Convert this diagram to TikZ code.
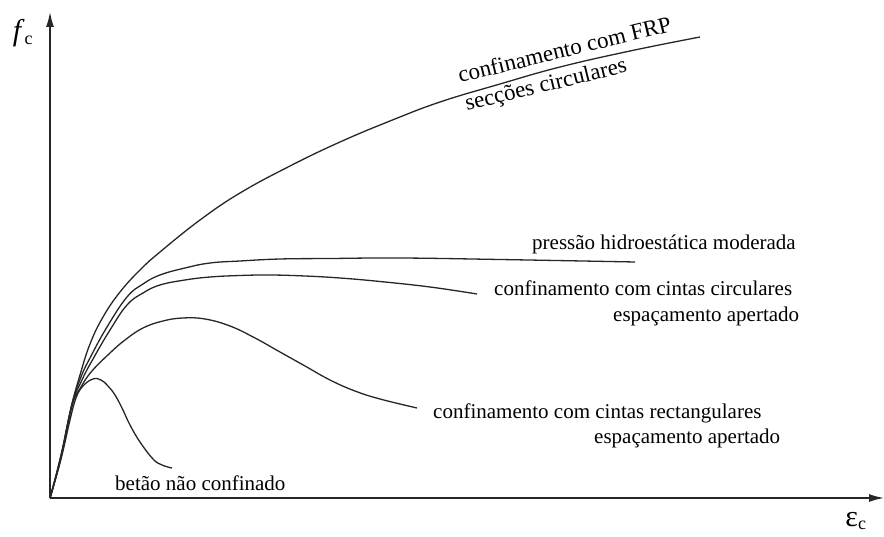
\documentclass[tikz,border=0pt]{standalone}
\usepackage{fontspec}
\setmainfont{Liberation Serif}
\newfontfamily\lserif{Liberation Serif}
\usetikzlibrary{arrows.meta}
\begin{document}
\begin{tikzpicture}[x=1pt,y=-1pt,
  curve/.style={line width=1.3pt,draw=black!85},
  axis/.style={line width=1.4pt,draw=black!85,-{Latex[length=15pt,width=8pt]}},
  lbl/.style={anchor=base west,inner sep=0pt,font=\lserif\fontsize{21}{25}\selectfont},
  rlbl/.style={anchor=base west,inner sep=0pt,rotate=13.7,font=\lserif\fontsize{23}{27}\selectfont}]
\useasboundingbox (0,0) rectangle (884,537);
\coordinate (O) at (50,498);
\coordinate (Ytip) at (50,12);
\coordinate (Xtip) at (884,498);
\draw[axis] (O) -- (Ytip);
\draw[axis] (O) -- (Xtip);
\node[inner sep=0pt,font=\lserif\fontsize{30}{30}\selectfont] (fc) at (23,33) {\textit{f}\textsubscript{\fontsize{18}{18}\selectfont c}};
\node[inner sep=0pt,font=\lserif\fontsize{30}{30}\selectfont] (ec) at (856,521) {ε\textsubscript{\fontsize{18}{18}\selectfont c}};
% FRP
\draw[curve] plot[smooth,tension=0.7] coordinates {(50,498) (61,455) (71,408) (80,375) (90,344) (103,317) (120,292) (140,270) (160,252) (200,220) (240,193) (290,166) (340,142) (390,121) (440,102) (500,84) (560,67) (630,51) (700,37)};
% hydrostatic
\draw[curve] plot[smooth,tension=0.7] coordinates {(50,498) (61,456) (72,404) (81,377) (90,358) (107,327) (127,297) (143,284) (160,275) (185,268) (210,263) (240,261) (280,259) (330,258.5) (400,258) (500,259.5) (635,262)};
% circular ties
\draw[curve] plot[smooth,tension=0.7] coordinates {(50,498) (61,457) (72,405) (82,380) (93,359) (110,330) (127,305) (143,293) (160,285) (185,280) (210,277) (240,275.5) (270,275) (305,276) (340,278) (380,281.5) (430,287) (477,294)};
% rectangular ties
\draw[curve] plot[smooth,tension=0.7] coordinates {(50,498) (61,458) (72,406) (81,387) (92,371) (110,353) (125,340) (143,328) (163,321) (183,318) (205,319) (230,326) (255,338) (280,352) (305,366) (330,380) (355,391) (380,399) (417,408)};
% unconfined
\draw[curve] plot[smooth,tension=0.7] coordinates {(50,498) (61,459) (70,420) (76,398) (83,386) (93,379) (101,380) (108,386) (115,395) (122,408) (130,425) (140,442) (153,459) (162,465) (172,468)};
\node[rlbl] (frp1) at (460,83) {confinamento com FRP};
\node[rlbl] (frp2) at (467,111) {secções circulares};
\node[lbl] (hyd) at (532,250) {pressão hidroestática moderada};
\node[lbl] (cir1) at (494,296) {confinamento com cintas circulares};
\node[lbl] (cir2) at (613,322) {espaçamento apertado};
\node[lbl] (rec1) at (433,418) {confinamento com cintas rectangulares};
\node[lbl] (rec2) at (594,443) {espaçamento apertado};
\node[lbl] (unc) at (115,490) {betão não confinado};
\end{tikzpicture}
\end{document}
